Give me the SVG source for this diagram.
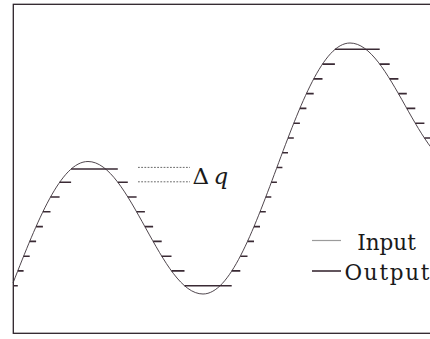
<svg xmlns="http://www.w3.org/2000/svg" width="430" height="339" viewBox="0 0 430 339">
<style>
.frame{fill:none;stroke:#2d2229;stroke-width:1.3}
.input{fill:none;stroke:#3b3139;stroke-width:0.9}
.output{fill:none;stroke:#3a2a34;stroke-width:1.6}
.dq{fill:none;stroke:#444;stroke-width:0.8;stroke-dasharray:1.8 1.4}
.lbl{font-family:"DejaVu Serif","Liberation Serif",serif;fill:#1a1a1a}
</style>
<rect width="430" height="339" fill="#fff"/>
<g id="axes"><rect class="frame" x="13.3" y="4.3" width="440" height="329"/></g>
<g id="connectors">
<path id="input-signal" class="input" d="M13 283C37.46 220.76 60.86 161.5 88 161.5C108.81 161.5 126.75 193.81 145.5 227.75C164.25 261.69 182.19 294 203 294C229.6 294 252.53 232.79 276.5 168.5C300.47 104.21 323.4 43 350 43C369.91 43 387.06 73.36 405 105.25C422.94 137.14 440.09 167.5 460 167.5"/>
<path id="output-signal" class="output" d="M13 285.7H17.8M17.8 270.9H23.6M23.6 256.2H29.7M29.7 241.4H36.1M36.1 226.6H42.9M42.9 211.8H50.5M50.5 197H59.6M59.6 182.3H71.1M71.1 169H117.8M117.8 182.3H127.8M127.8 197H136.6M136.6 211.8H144.9M144.9 226.6H153.1M153.1 241.4H161.7M161.7 256.2H171.5M171.5 270.9H184.5M184.5 285.7H231.7M231.7 270.9H240.3M240.3 256.2H247.5M247.5 241.4H254M254 226.6H260M260 211.8H265.8M265.8 197H271.3M271.3 182.3H276.9M276.9 167.5H282.4M282.4 152.7H288M288 138H293.8M293.8 123.2H299.9M299.9 108.4H306.4M306.4 93.6H313.7M313.7 78.9H322.5M322.5 64.1H334.9M334.9 49.3H379.7M379.7 64.1H389.7M389.7 78.9H398.4M398.4 93.6H406.8M406.8 108.4H415.3M415.3 123.2H424.4M424.4 138H431"/>
<path id="dq-lines" class="dq" d="M138 167.4H190M138 181.8H190"/>
</g>
<g id="dq-label"><text class="lbl" x="192.5" y="183.5" font-size="23">Δ<tspan x="213.5" font-style="italic">q</tspan></text></g>
<g id="legend">
<path d="M312 240.5H341" stroke="#9b9b9b" stroke-width="1.2"/>
<path d="M312 271H341" stroke="#3a2a34" stroke-width="1.6"/>
<text class="lbl" x="386.5" y="249.5" font-size="21.5" text-anchor="middle">Input</text>
<text class="lbl" x="387" y="280" font-size="21.5" text-anchor="middle" textLength="85" lengthAdjust="spacing">Output</text>
</g>
</svg>
